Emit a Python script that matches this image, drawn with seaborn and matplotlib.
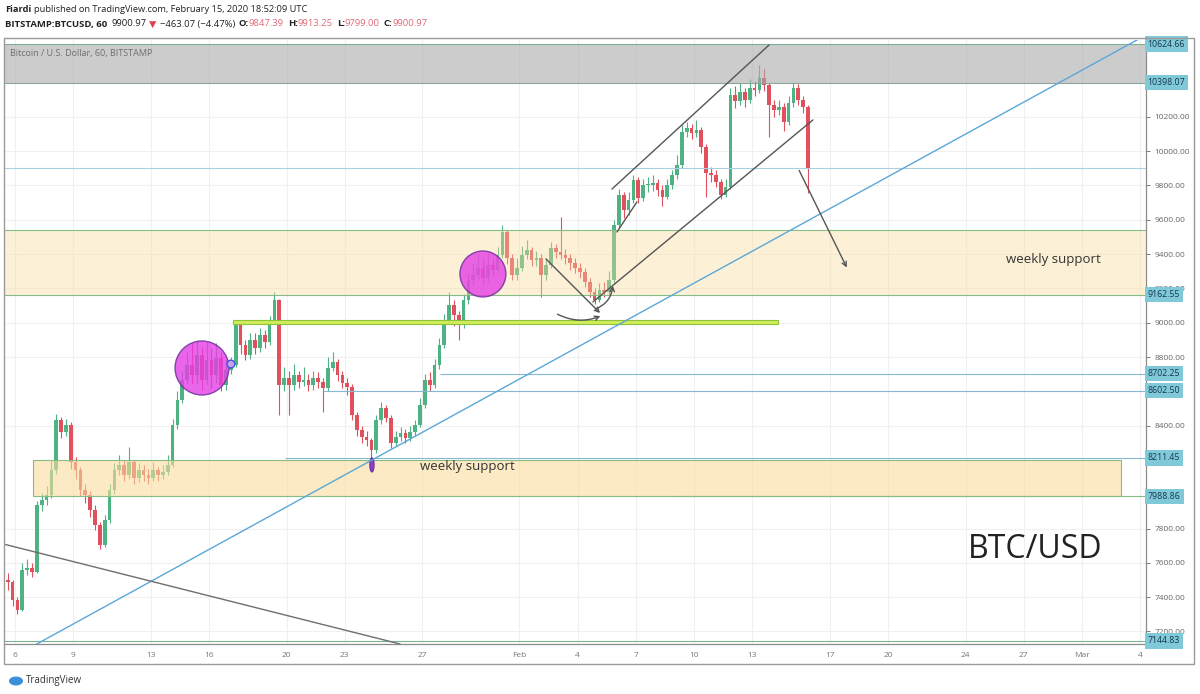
import matplotlib
matplotlib.use("Agg")
import matplotlib.pyplot as plt
from matplotlib.patches import Rectangle, Ellipse, FancyArrowPatch
import numpy as np
import seaborn as sns

# BITSTAMP:BTCUSD, read off the hourly chart and thinned to 6-hour candles,
# first candle starts Jan 5 12:00 UTC (day 0 = Jan 6)
first_open = 7500
closes = [
    7486, 7384, 7325, 7558, 7570, 7548, 7937, 7966, 7996, 8141,
    8433, 8363, 8404, 8188, 8141, 8025, 7996, 7908, 7821, 7704,
    7850, 8025, 8141, 8170, 8112, 8188, 8095, 8141, 8112, 8095,
    8141, 8112, 8130, 8170, 8404, 8550, 8666, 8754, 8695, 8812,
    8666, 8782, 8695, 8794, 8637, 8724, 8754, 8987, 8870, 8812,
    8899, 8853, 8928, 8888, 9004, 9132, 8637, 8678, 8637, 8695,
    8654, 8666, 8637, 8678, 8654, 8619, 8736, 8771, 8695, 8648,
    8625, 8462, 8375, 8334, 8316, 8258, 8433, 8503, 8445, 8299,
    8334, 8357, 8328, 8363, 8404, 8520, 8666, 8637, 8754, 8870,
    9016, 9103, 9045, 8987, 9132, 9249, 9278, 9319, 9261, 9336,
    9307, 9395, 9529, 9377, 9278, 9319, 9395, 9424, 9365, 9377,
    9278, 9336, 9435, 9412, 9395, 9377, 9348, 9319, 9295, 9237,
    9179, 9132, 9190, 9179, 9249, 9570, 9745, 9657, 9715, 9832,
    9727, 9803, 9803, 9814, 9773, 9733, 9803, 9861, 9919, 10112,
    10135, 10106, 10124, 10025, 9873, 9861, 9820, 9745, 9791, 10330,
    10290, 10345, 10298, 10368, 10356, 10426, 10386, 10269, 10240, 10258,
    10170, 10281, 10368, 10298, 10258, 9901,
]
highs = [
    7540, 7500, 7400, 7600, 7620, 7600, 7960, 8010, 8050, 8200,
    8470, 8450, 8440, 8420, 8220, 8160, 8060, 8020, 7940, 7840,
    7880, 8060, 8180, 8230, 8200, 8276, 8200, 8180, 8170, 8150,
    8190, 8160, 8170, 8230, 8440, 8600, 8720, 8830, 8880, 8900,
    8860, 8890, 8850, 8880, 8830, 8780, 8800, 9010, 9000, 8900,
    8940, 8940, 8970, 8960, 9040, 9180, 9140, 8740, 8720, 8760,
    8720, 8740, 8700, 8720, 8710, 8680, 8800, 8830, 8790, 8720,
    8680, 8640, 8480, 8400, 8370, 8330, 8460, 8540, 8520, 8460,
    8370, 8390, 8380, 8400, 8430, 8560, 8700, 8710, 8790, 8910,
    9050, 9180, 9130, 9070, 9170, 9290, 9350, 9400, 9380, 9400,
    9380, 9440, 9570, 9540, 9400, 9380, 9450, 9480, 9440, 9420,
    9400, 9380, 9470, 9460, 9617, 9430, 9400, 9380, 9350, 9320,
    9260, 9200, 9230, 9240, 9300, 9600, 9780, 9760, 9760, 9860,
    9850, 9840, 9850, 9860, 9840, 9800, 9840, 9890, 9980, 10150,
    10170, 10160, 10182, 10140, 10040, 9910, 9890, 9840, 9840, 10370,
    10380, 10400, 10370, 10420, 10410, 10502, 10480, 10400, 10300, 10300,
    10280, 10320, 10400, 10390, 10320, 10270,
]
lows = [
    7440, 7350, 7300, 7320, 7530, 7520, 7540, 7900, 7940, 7980,
    8120, 8330, 8340, 8150, 8090, 7990, 7950, 7870, 7790, 7680,
    7690, 7830, 8000, 8110, 8080, 8090, 8060, 8070, 8080, 8060,
    8080, 8080, 8090, 8110, 8160, 8380, 8530, 8640, 8640, 8650,
    8610, 8640, 8620, 8650, 8600, 8610, 8700, 8740, 8820, 8780,
    8790, 8820, 8830, 8850, 8870, 8990, 8462, 8600, 8462, 8610,
    8620, 8630, 8600, 8610, 8620, 8480, 8600, 8720, 8660, 8620,
    8580, 8430, 8340, 8300, 8280, 8200, 8240, 8410, 8420, 8270,
    8280, 8310, 8300, 8310, 8340, 8390, 8500, 8600, 8620, 8730,
    8850, 9000, 8980, 8900, 8970, 9110, 9220, 9250, 9220, 9240,
    9270, 9290, 9380, 9340, 9250, 9250, 9300, 9370, 9330, 9330,
    9150, 9250, 9320, 9380, 9370, 9340, 9310, 9290, 9260, 9210,
    9150, 9110, 9120, 9150, 9160, 9230, 9550, 9610, 9630, 9700,
    9700, 9710, 9760, 9770, 9740, 9680, 9720, 9780, 9840, 9900,
    10080, 10070, 10080, 9990, 9733, 9820, 9790, 9720, 9730, 9780,
    10250, 10270, 10260, 10280, 10320, 10340, 10350, 10083, 10200, 10210,
    10120, 10150, 10260, 10270, 10220, 9756,
]

# drawn levels (price, start day) and zones
level_vals = [10624.66, 10398.07, 9162.55, 8702.25, 8602.50, 8211.45, 7988.86, 7144.83]
level_from = [-0.6, -0.6, -0.6, 21.9, 15.9, 13.9, 34.0, -0.6]
level_cols = ["#79b394", "#8ea79a", "#86bd86", "#86b8d4", "#86b8d4", "#86b8d4", "#86bd86", "#79b394"]
last_price = 9900.97
grey_zone = (10398.07, 10624.66)
upper_zone = (9162.55, 9540)
lower_zone = (7988.86, 8200)
lower_zone_days = (0.93, 57.0)
lime_line = (8995, 9018)
lime_days = (11.24, 39.33)

tick_days = [0, 3, 7, 10, 14, 17, 21, 26, 29, 32, 35, 38, 42, 45, 49, 52, 55, 58]
tick_names = ["6", "9", "13", "16", "20", "23", "27", "Feb", "4", "7", "10", "13",
              "17", "20", "24", "27", "Mar", "4"]
price_ticks = [7200, 7400, 7600, 7800, 8400, 8800, 9000, 9200, 9400, 9600, 9800, 10000, 10200]

W, H = 1200, 694
sns.set_theme(style="white")
plt.rcParams["font.family"] = ["Open Sans", "DejaVu Sans"]

fig = plt.figure(figsize=(W / 100, H / 100), dpi=100)
ax = fig.add_axes([5 / W, (H - 644) / H, 1141 / W, 604 / H])
x0, x1 = -0.515, 58.3
ax.set_xlim(x0, x1)
ax.set_ylim(7127, 10648)

# candles
opens = [first_open] + closes[:-1]
n = len(closes)
days = np.arange(n) * 0.25 - 0.5 + 0.125
cols = ["#4fb283" if c >= o else "#e0505d" for o, c in zip(opens, closes)]
body_lo = [min(o, c) for o, c in zip(opens, closes)]
body_h = [max(abs(c - o), 4) for o, c in zip(opens, closes)]
ax.vlines(days, lows, highs, colors=cols, lw=0.8, zorder=2)
ax.bar(days, body_h, bottom=body_lo, width=0.19, color=cols, linewidth=0, zorder=2)

# zones
ax.axhspan(*grey_zone, facecolor="#aaaaaa", alpha=0.6, lw=0, zorder=3)
ax.axhspan(*upper_zone, facecolor="#f9dc9c", alpha=0.4, lw=0, zorder=3)
ax.axhline(upper_zone[1], color="#86bd86", lw=0.8, zorder=3)
ax.add_patch(Rectangle((lower_zone_days[0], lower_zone[0]), lower_zone_days[1] - lower_zone_days[0],
                       lower_zone[1] - lower_zone[0], facecolor="#f9dc9c", alpha=0.6,
                       edgecolor="none", zorder=3))
ax.add_patch(Rectangle((lower_zone_days[0], lower_zone[0]), lower_zone_days[1] - lower_zone_days[0],
                       lower_zone[1] - lower_zone[0], facecolor="none",
                       edgecolor="#86bd86", lw=0.8, zorder=3))
ax.add_patch(Rectangle((lime_days[0], lime_line[0]), lime_days[1] - lime_days[0],
                       lime_line[1] - lime_line[0], facecolor="#d2ec5a",
                       edgecolor="#8cc43c", lw=0.8, zorder=4))

# levels
for v, f, c in zip(level_vals, level_from, level_cols):
    ax.hlines(v, f, x1, colors=c, lw=0.8, zorder=4)
ax.axhline(last_price, color="#a9d0e0", lw=0.8, zorder=4)

# circles
ax.add_patch(Ellipse((9.64, 8736), 2.78, 315, facecolor="#e43ee4", alpha=0.8,
                     edgecolor="#6a2a9a", lw=1.0, zorder=4))
ax.add_patch(Ellipse((24.12, 9284), 2.37, 268, facecolor="#e43ee4", alpha=0.8,
                     edgecolor="#6a2a9a", lw=1.0, zorder=4))
ax.add_patch(Ellipse((11.13, 8759), 0.4, 45, facecolor="#c8a0f0", edgecolor="#4058d8", lw=1.0, zorder=5))
ax.add_patch(Ellipse((18.4, 8171), 0.22, 82, facecolor="#9a3cc8", edgecolor="#6030a0", lw=0.8, zorder=5))

# trend lines
sns.lineplot(x=[1.03, 58.3], y=[7121, 10677], ax=ax, color="#5aa7d8", lw=1.0, zorder=5)
sns.lineplot(x=[-0.6, 19.85], y=[7710, 7127], ax=ax, color="#6e6e6e", lw=1.0, zorder=5)
sns.lineplot(x=[30.77, 38.87], y=[9779, 10619], ax=ax, color="#555555", lw=1.0, zorder=5)
sns.lineplot(x=[29.79, 41.13], y=[9121, 10182], ax=ax, color="#555555", lw=1.0, zorder=5)
sns.lineplot(x=[31.03, 32.06], y=[9529, 9704], ax=ax, color="#555555", lw=1.0, zorder=5)

arrow_kw = dict(arrowstyle="->", mutation_scale=8, color="#555555", lw=1.0, zorder=6)
ax.add_patch(FancyArrowPatch((40.36, 9902), (42.94, 9307), **arrow_kw))
ax.add_patch(FancyArrowPatch((27.27, 9383), (30.26, 9045), **arrow_kw))
ax.add_patch(FancyArrowPatch((27.84, 9057), (30.31, 9045), connectionstyle="arc3,rad=0.25", **arrow_kw))
ax.add_patch(FancyArrowPatch((29.79, 9074), (30.82, 9232), connectionstyle="arc3,rad=0.35", **arrow_kw))

# texts on the chart
ax.text(53.5, 9371, "weekly support", fontsize=9.5, color="#333333", ha="center", va="center", zorder=7)
ax.text(23.3, 8159, "weekly support", fontsize=9.5, color="#333333", ha="center", va="center", zorder=7)
ax.text(52.58, 7675, "BTC/USD", fontsize=23, color="#222222", ha="center", va="center", zorder=7)
ax.text(0.004, 0.985, "Bitcoin / U.S. Dollar, 60, BITSTAMP", transform=ax.transAxes,
        fontsize=6.5, color="#6e6e6e", ha="left", va="top", zorder=7)

# axes styling
ax.set_xticks(tick_days)
ax.set_xticklabels(tick_names)
ax.set_yticks(price_ticks)
ax.set_yticklabels([f"{v:.2f}" for v in price_ticks])
ax.yaxis.tick_right()
ax.tick_params(axis="both", labelsize=6, colors="#666666", length=3, width=0.6, pad=3, direction="out")
ax.tick_params(axis="x", labelcolor="#777777")
ax.grid(True, color="#f0f0f0", lw=0.8, zorder=0)
ax.set_axisbelow(True)
for s in ["top", "left"]:
    ax.spines[s].set_visible(False)
for s in ["right", "bottom"]:
    ax.spines[s].set_color("#8a8a8a")
    ax.spines[s].set_linewidth(0.9)

for v in level_vals:
    ax.text(1.0015, v, f"{v:.2f}", transform=ax.get_yaxis_transform(), fontsize=6.3, color="#16384a",
            ha="left", va="center", clip_on=False, zorder=8,
            bbox=dict(boxstyle="square,pad=0.35", facecolor="#80c9d9", edgecolor="none"))

# outer frame
fig.patches.append(Rectangle((4 / W, (H - 664) / H), 1190 / W, 626 / H, transform=fig.transFigure,
                             fill=False, edgecolor="#9a9a9a", lw=1.0))

# header
renderer = fig.canvas.get_renderer()


def put_row(pieces, x, y, size):
    for txt, color, weight, gap in pieces:
        t = fig.text(x / W, 1 - y / H, txt, color=color, fontsize=size, fontweight=weight,
                     ha="left", va="center")
        x += t.get_window_extent(renderer=renderer).width + gap


put_row([("Fiardi", "#222222", "bold", 3),
         ("published on TradingView.com, February 15, 2020 18:52:09 UTC", "#222222", "normal", 0)],
        5, 9, 6.7)
pink = "#e06a78"
put_row([("BITSTAMP:BTCUSD, 60", "#222222", "bold", 4),
         ("9900.97", "#222222", "normal", 3),
         ("▼", "#e0404a", "normal", 3),
         ("−463.07 (−4.47%)", "#222222", "normal", 4),
         ("O:", "#222222", "bold", 0), ("9847.39", pink, "normal", 4),
         ("H:", "#222222", "bold", 0), ("9913.25", pink, "normal", 4),
         ("L:", "#222222", "bold", 0), ("9799.00", pink, "normal", 4),
         ("C:", "#222222", "bold", 0), ("9900.97", pink, "normal", 0)],
        5, 24, 6.8)

# footer logo
fig.patches.append(Ellipse((16 / W, 1 - 681 / H), 14 / W, 9 / H, transform=fig.transFigure,
                           facecolor="#3c8fd8", edgecolor="none"))
fig.text(26 / W, 1 - 681 / H, "TradingView", fontsize=7, color="#333333", ha="left", va="center")

fig.savefig("out.png", dpi=100)
